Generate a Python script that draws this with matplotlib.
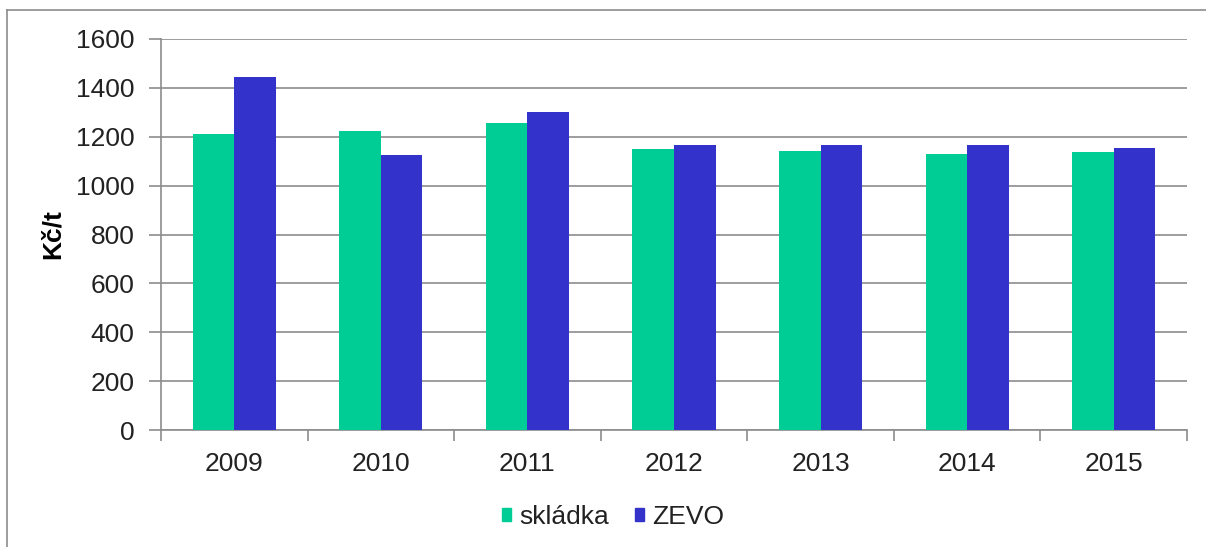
import numpy as np
import matplotlib.pyplot as plt
from matplotlib.lines import Line2D
from matplotlib.patches import Patch

plt.rcParams['font.family'] = ['Liberation Sans', 'DejaVu Sans']

# Data
years = ['2009', '2010', '2011', '2012', '2013', '2014', '2015']
skladka = [1210, 1225, 1257, 1148, 1141, 1129, 1136]
zevo = [1446, 1125, 1302, 1168, 1168, 1168, 1155]

green = '#00CC96'
blue = '#3333CC'
grey = '#8c8c8c'
fs = 19

fig = plt.figure(figsize=(12.06, 5.47), dpi=100)
ax = fig.add_axes([161 / 1206, 1 - 430 / 547, 1026 / 1206, 391 / 547])

# Outer frame (only left and top edges visible in the crop)
fig.add_artist(Line2D([7 / 1206, 7 / 1206], [0, 1 - 10 / 547], transform=fig.transFigure,
                      color=grey, lw=1.2))
fig.add_artist(Line2D([7 / 1206, 1], [1 - 10 / 547, 1 - 10 / 547], transform=fig.transFigure,
                      color=grey, lw=1.2))

x = np.arange(len(years))
w = 0.284
ax.bar(x - w / 2, skladka, w, color=green, zorder=3)
ax.bar(x + w / 2, zevo, w, color=blue, zorder=3)

ax.set_xlim(-0.5, len(years) - 0.5)
ax.set_ylim(0, 1600)
ax.set_yticks(range(0, 1601, 200))
ax.yaxis.grid(True, color=grey, lw=1.2, zorder=0)

# category ticks sit between groups
ax.set_xticks(np.arange(-0.5, len(years), 1))
ax.set_xticklabels([])
ax.set_xticks(x, minor=True)
ax.set_xticklabels(years, minor=True)
ax.tick_params(axis='x', which='minor', length=0, pad=16, labelsize=fs, labelcolor='#222222')
ax.tick_params(axis='x', which='major', length=8, direction='out', color=grey, width=1.2)
ax.tick_params(axis='y', length=9, color=grey, width=1.2, labelsize=fs, pad=10,
               labelcolor='#222222')

for side in ['top', 'right']:
    ax.spines[side].set_visible(False)
for side in ['left', 'bottom']:
    ax.spines[side].set_color(grey)
    ax.spines[side].set_linewidth(1.2)

ax.set_ylabel('Kč/t', fontsize=fs, fontweight='bold', labelpad=8)

handles = [Patch(color=green, label='skládka'), Patch(color=blue, label='ZEVO')]
fig.legend(handles=handles, loc='center', bbox_to_anchor=(613 / 1206, 1 - 517 / 547),
           ncol=2, frameon=False, fontsize=fs, handlelength=0.33, handleheight=0.33,
           handletextpad=0.3, columnspacing=1.0, labelcolor='#222222')

fig.savefig('out.png', dpi=100)
